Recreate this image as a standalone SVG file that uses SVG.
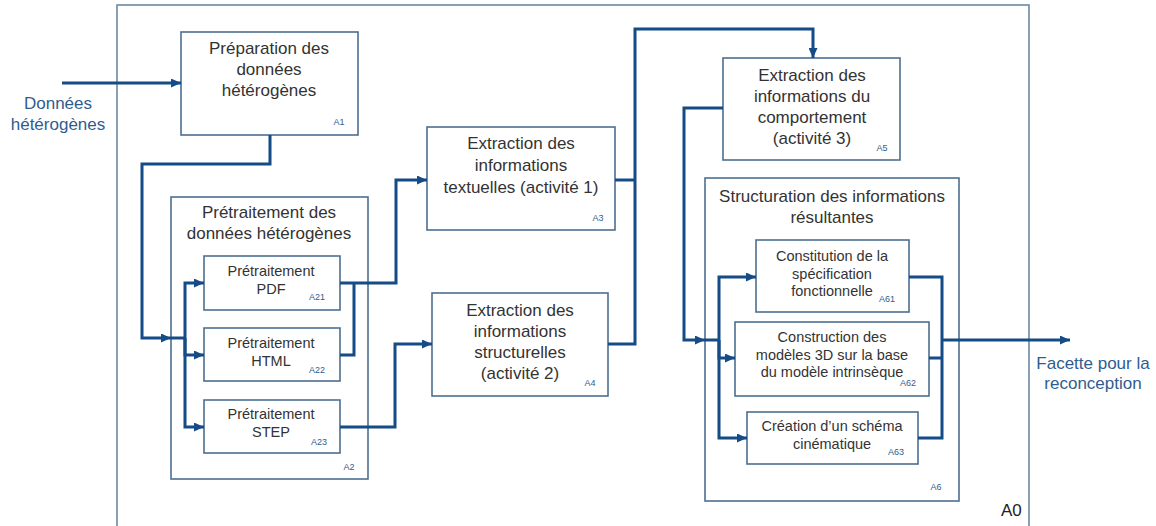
<svg xmlns="http://www.w3.org/2000/svg" width="1156" height="526" viewBox="0 0 1156 526">
<defs>
<style>
.box{fill:#fff;stroke:#4d6f90;stroke-width:1.6}
.outer{fill:none;stroke:#6d8aa3;stroke-width:1.6}
.t{font-family:"Liberation Sans",Arial,sans-serif;font-size:17px;fill:#333;text-anchor:middle}
.ts{font-family:"Liberation Sans",Arial,sans-serif;font-size:14.5px;fill:#333;text-anchor:middle}
.lab{font-family:"Liberation Sans",Arial,sans-serif;font-size:9px;fill:#2f5d8f;text-anchor:middle}
.io{font-family:"Liberation Sans",Arial,sans-serif;font-size:17px;fill:#2f5d8f;text-anchor:middle}
.c{fill:none;stroke:#154b87;stroke-width:3;stroke-linejoin:miter}
</style>
<marker id="ah" viewBox="0 0 10 9" refX="10" refY="4.5" markerWidth="10" markerHeight="9" markerUnits="userSpaceOnUse" orient="auto">
<path d="M0,0 L10,4.5 L0,9 z" fill="#154b87"/>
</marker>
</defs>
<rect width="1156" height="526" fill="#fff"/>
<g id="A0">
<rect class="outer" x="117" y="5" width="912" height="530"/>
<text x="1001" y="516" style="font-family:'Liberation Sans',Arial,sans-serif;font-size:17px;fill:#222">A0</text>
</g>
<g id="n-A1">
<rect class="box" x="181" y="32" width="177" height="103"/>
<text class="t" x="269" y="54">Préparation des</text>
<text class="t" x="269" y="75">données</text>
<text class="t" x="269" y="96">hétérogènes</text>
<text class="lab" x="339" y="125">A1</text>
</g>
<g id="n-A2">
<rect class="box" x="171" y="197" width="197" height="282"/>
<text class="t" x="269" y="218">Prétraitement des</text>
<text class="t" x="269" y="239">données hétérogènes</text>
<text class="lab" x="349" y="470">A2</text>
</g>
<g id="n-A21">
<rect class="box" x="204" y="256" width="136" height="54"/>
<text class="ts" x="271" y="276">Prétraitement</text>
<text class="ts" x="271" y="294">PDF</text>
<text class="lab" x="317" y="300">A21</text>
</g>
<g id="n-A22">
<rect class="box" x="204" y="328" width="136" height="53"/>
<text class="ts" x="271" y="348">Prétraitement</text>
<text class="ts" x="271" y="366">HTML</text>
<text class="lab" x="317" y="373">A22</text>
</g>
<g id="n-A23">
<rect class="box" x="204" y="400" width="136" height="53"/>
<text class="ts" x="271" y="419">Prétraitement</text>
<text class="ts" x="271" y="437">STEP</text>
<text class="lab" x="319" y="445">A23</text>
</g>
<g id="n-A3">
<rect class="box" x="427" y="127" width="188" height="103"/>
<text class="t" x="521" y="149">Extraction des</text>
<text class="t" x="521" y="171">informations</text>
<text class="t" x="521" y="193">textuelles (activité 1)</text>
<text class="lab" x="598" y="221">A3</text>
</g>
<g id="n-A4">
<rect class="box" x="432" y="293" width="176" height="103"/>
<text class="t" x="520" y="316">Extraction des</text>
<text class="t" x="520" y="337">informations</text>
<text class="t" x="520" y="358">structurelles</text>
<text class="t" x="520" y="379">(activité 2)</text>
<text class="lab" x="590" y="386">A4</text>
</g>
<g id="n-A5">
<rect class="box" x="723" y="58" width="177" height="102"/>
<text class="t" x="812" y="81">Extraction des</text>
<text class="t" x="812" y="102">informations du</text>
<text class="t" x="812" y="123">comportement</text>
<text class="t" x="812" y="144">(activité 3)</text>
<text class="lab" x="882" y="151">A5</text>
</g>
<g id="n-A6">
<rect class="box" x="705" y="178" width="254" height="323"/>
<text class="t" x="832" y="202">Structuration des informations</text>
<text class="t" x="832" y="223">résultantes</text>
<text class="lab" x="936" y="490">A6</text>
</g>
<g id="n-A61">
<rect class="box" x="756" y="240" width="153" height="72"/>
<text class="ts" x="832" y="261">Constitution de la</text>
<text class="ts" x="832" y="279">spécification</text>
<text class="ts" x="832" y="296">fonctionnelle</text>
<text class="lab" x="887" y="302">A61</text>
</g>
<g id="n-A62">
<rect class="box" x="735" y="322" width="194" height="74"/>
<text class="ts" x="832" y="342">Construction des</text>
<text class="ts" x="832" y="360">modèles 3D sur la base</text>
<text class="ts" x="832" y="377">du modèle intrinsèque</text>
<text class="lab" x="908" y="386">A62</text>
</g>
<g id="n-A63">
<rect class="box" x="747" y="412" width="171" height="52"/>
<text class="ts" x="832" y="431">Création d’un schéma</text>
<text class="ts" x="832" y="449">cinématique</text>
<text class="lab" x="896" y="455">A63</text>
</g>
<g id="io-labels">
<text class="io" x="58" y="109">Données</text>
<text class="io" x="58" y="130">hétérogènes</text>
<text class="io" x="1093" y="369">Facette pour la</text>
<text class="io" x="1093" y="389">reconception</text>
</g>
<g id="connectors">
<path class="c" d="M62,83 H181" marker-end="url(#ah)"/>
<path class="c" d="M270,135 V164 H142 V338 H171" marker-end="url(#ah)"/>
<path class="c" d="M171,338 H185"/>
<path class="c" d="M185,338 V283 H204" marker-end="url(#ah)"/>
<path class="c" d="M185,338 V355 H204" marker-end="url(#ah)"/>
<path class="c" d="M185,338 V427 H204" marker-end="url(#ah)"/>
<path class="c" d="M340,283 H396 V180 H427" marker-end="url(#ah)"/>
<path class="c" d="M340,355 H354 V283"/>
<path class="c" d="M340,427 H395 V344 H432" marker-end="url(#ah)"/>
<path class="c" d="M615,180 H635"/>
<path class="c" d="M608,344 H635 V29 H813 V58" marker-end="url(#ah)"/>
<path class="c" d="M723,108 H684 V340 H705" marker-end="url(#ah)"/>
<path class="c" d="M705,340 H719"/>
<path class="c" d="M719,340 V277 H756" marker-end="url(#ah)"/>
<path class="c" d="M719,340 V358 H735" marker-end="url(#ah)"/>
<path class="c" d="M719,340 V438 H747" marker-end="url(#ah)"/>
<path class="c" d="M909,277 H942 V438 H918"/>
<path class="c" d="M929,358 H942"/>
<path class="c" d="M942,340 H1070" marker-end="url(#ah)"/>
</g>
</svg>
